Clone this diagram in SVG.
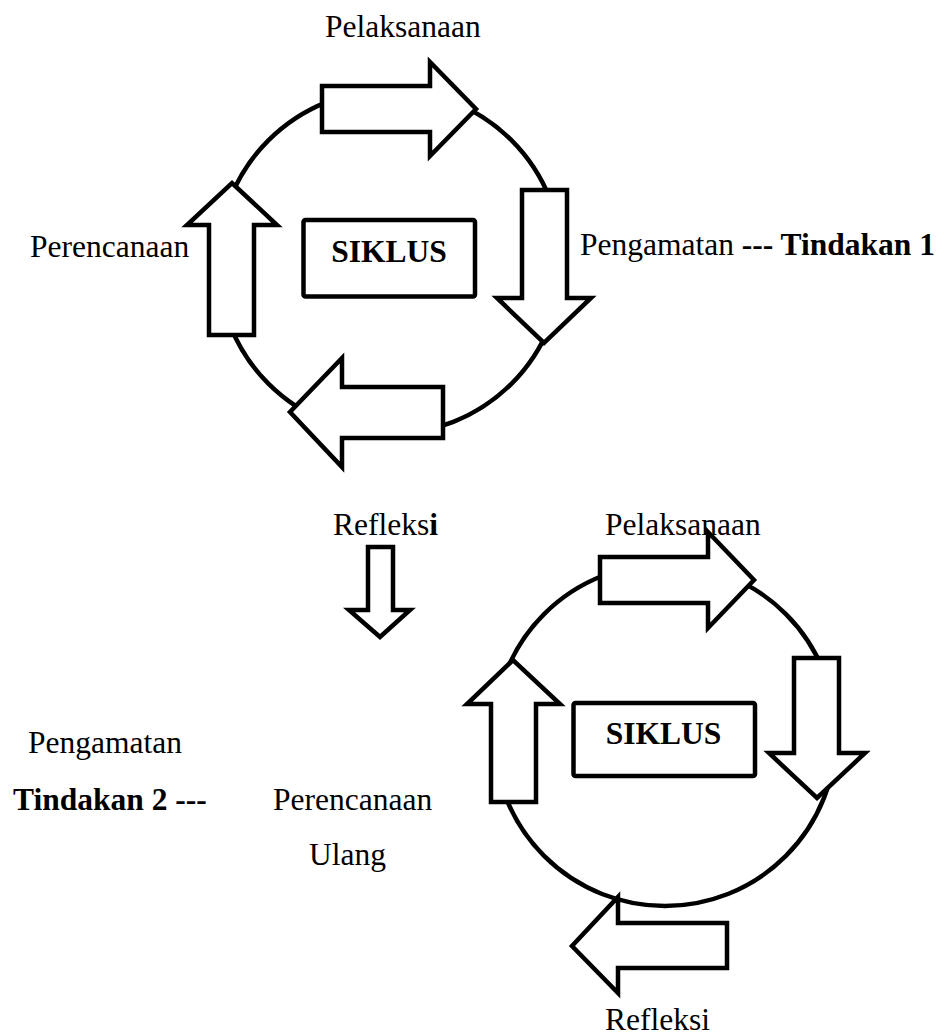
<svg xmlns="http://www.w3.org/2000/svg" width="944" height="1035" viewBox="0 0 944 1035">
<style>
.ring{fill:none;stroke:#000;stroke-width:4.5}
.arr{fill:#fff;stroke:#000;stroke-width:4.5;stroke-linejoin:miter;stroke-miterlimit:10}
.box{fill:#fff;stroke:#000;stroke-width:4.5}
.t{font-family:"Liberation Serif","Times New Roman",serif;font-size:31.5px;fill:#000}
.b{font-weight:bold}
</style>
<rect width="944" height="1035" fill="#fff"/>
<g id="cycle1">
<circle class="ring" cx="390" cy="262" r="172"/>
<polygon class="arr" points="322,86 430,86 430,62 476,109 430,156 430,132 322,132"/>
<polygon class="arr" points="522,190 567,190 567,298 591,298 544,343 497,298 522,298"/>
<polygon class="arr" points="443,387 443,438 342,438 342,467 290,412 342,358 342,387"/>
<polygon class="arr" points="254,335 209,335 209,225 187,225 232,183 277,225 254,225"/>
</g>
<g id="siklus1">
<rect class="box" x="303.5" y="220" width="171.5" height="76.5" rx="2"/>
<text class="t b" x="389" y="262" text-anchor="middle">SIKLUS</text>
</g>
<g id="cycle2">
<circle class="ring" cx="665" cy="735" r="171"/>
<polygon class="arr" points="600,557 708,557 708,532 754,580 708,628 708,603 600,603"/>
<polygon class="arr" points="794,658 839,658 839,753 865,753 817,798 769,753 794,753"/>
<polygon class="arr" points="727,923 727,968 618,968 618,993 572,946 618,897 618,923"/>
<polygon class="arr" points="536,802 491,802 491,704 467,704 513,660 560,704 536,704"/>
</g>
<g id="siklus2">
<rect class="box" x="573.5" y="703" width="181.5" height="73" rx="2"/>
<text class="t b" x="663.5" y="743.5" text-anchor="middle">SIKLUS</text>
</g>
<g id="connectors">
<polygon class="arr" points="368,547 393,547 393,610 410,610 380,637 349,610 368,610"/>
</g>
<g id="labels">
<text class="t" x="325" y="37">Pelaksanaan</text>
<text class="t" x="30" y="257">Perencanaan</text>
<text class="t" x="580" y="255">Pengamatan <tspan class="b">--- Tindakan 1</tspan></text>
<text class="t" x="333" y="535">Refleks<tspan class="b">i</tspan></text>
<text class="t" x="605" y="535">Pelaksanaan</text>
<text class="t" x="28" y="753">Pengamatan</text>
<text class="t b" x="13" y="810">Tindakan 2 ---</text>
<text class="t" x="273" y="810">Perencanaan</text>
<text class="t" x="309" y="865">Ulang</text>
<text class="t" x="605" y="1030">Refleksi</text>
</g>
</svg>
